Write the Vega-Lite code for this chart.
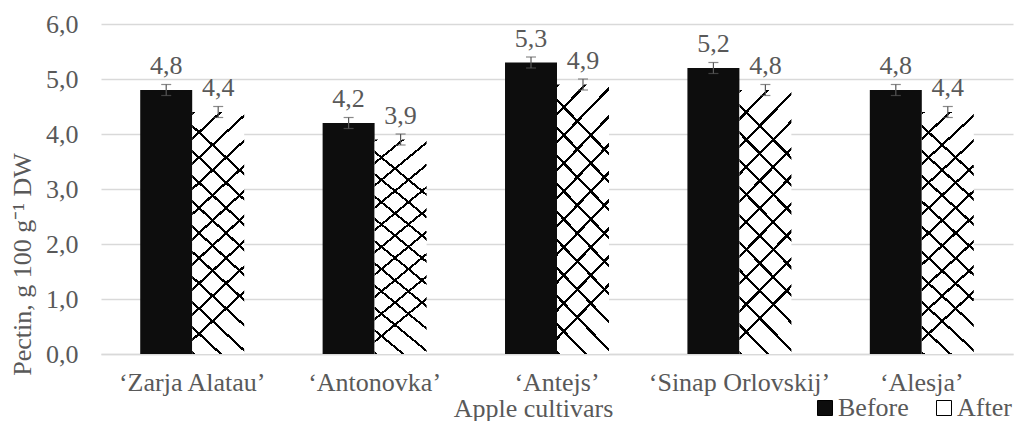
{
  "$schema": "https://vega.github.io/schema/vega-lite/v6.json",
  "width": 912,
  "height": 330,
  "autosize": {"type": "none"},
  "padding": {"left": 101, "top": 24, "right": 3, "bottom": 67},
  "background": "white",
  "config": {
    "font": "Liberation Serif, Times New Roman, serif",
    "view": {"stroke": null},
    "locale": {"number": {"decimal": ",", "thousands": ".", "grouping": [3], "currency": ["", ""]}},
    "axisY": {
      "domain": false, "ticks": false, "tickSize": 0, "labelOverlap": false,
      "gridColor": "#d9d9d9", "gridWidth": 1.3,
      "labelFont": "Liberation Serif, Times New Roman, serif", "labelFontSize": 26, "labelColor": "#595959", "labelPadding": 23,
      "titleFont": "Liberation Serif, Times New Roman, serif", "titleFontSize": 26, "titleColor": "#595959", "titleFontWeight": "normal",
      "titleX": -79, "titleY": 240, "titleBaseline": "middle", "titleAlign": "center", "titleAngle": -90
    }
  },
  "data": {
    "values": [
      {"cultivar": "‘Zarja Alatau’", "group": "Before", "value": 4.8, "lo": 4.7, "hi": 4.9},
      {"cultivar": "‘Zarja Alatau’", "group": "After", "value": 4.4, "lo": 4.3, "hi": 4.5},
      {"cultivar": "‘Antonovka’", "group": "Before", "value": 4.2, "lo": 4.1, "hi": 4.3},
      {"cultivar": "‘Antonovka’", "group": "After", "value": 3.9, "lo": 3.8, "hi": 4.0},
      {"cultivar": "‘Antejs’", "group": "Before", "value": 5.3, "lo": 5.2, "hi": 5.4},
      {"cultivar": "‘Antejs’", "group": "After", "value": 4.9, "lo": 4.8, "hi": 5.0},
      {"cultivar": "‘Sinap Orlovskij’", "group": "Before", "value": 5.2, "lo": 5.1, "hi": 5.3},
      {"cultivar": "‘Sinap Orlovskij’", "group": "After", "value": 4.8, "lo": 4.7, "hi": 4.9},
      {"cultivar": "‘Alesja’", "group": "Before", "value": 4.8, "lo": 4.7, "hi": 4.9},
      {"cultivar": "‘Alesja’", "group": "After", "value": 4.4, "lo": 4.3, "hi": 4.5}
    ]
  },
  "encoding": {
    "x": {
      "field": "cultivar", "type": "nominal", "sort": null,
      "scale": {"paddingInner": 0.43, "paddingOuter": 0.215},
      "axis": {
        "title": "Apple cultivars", "labelAngle": 0, "ticks": false, "tickSize": 0,
        "domainColor": "#d9d9d9", "domainWidth": 1.3, "labelOverlap": false,
        "labelFont": "Liberation Serif, Times New Roman, serif", "labelFontSize": 26, "labelColor": "#595959",
        "labelBaseline": "alphabetic", "labelPadding": 36, "labelLimit": 0,
        "titleFont": "Liberation Serif, Times New Roman, serif", "titleFontSize": 26, "titleColor": "#595959", "titleFontWeight": "normal",
        "titleX": 432, "titleY": 62, "titleBaseline": "alphabetic", "titleAlign": "center", "titleAnchor": null
      }
    },
    "xOffset": {"field": "group", "type": "nominal", "scale": {"domain": ["Before", "After"], "paddingInner": 0, "paddingOuter": 0}}
  },
  "layer": [
    {
      "mark": {"type": "bar"},
      "encoding": {
        "y": {
          "field": "value", "type": "quantitative",
          "scale": {"domain": [0, 6], "nice": false, "zero": true},
          "axis": {"title": "Pectin, g 100 g⁻¹ DW", "values": [0, 1, 2, 3, 4, 5, 6], "format": ".1f"}
        },
        "color": {
          "field": "group", "type": "nominal",
          "scale": {"domain": ["Before", "After"], "range": ["#0d0d0d", "#ffffff"]},
          "legend": {
            "title": null, "orient": "none", "direction": "horizontal",
            "legendX": 711, "legendY": 371,
            "symbolType": "square", "symbolSize": 225, "symbolStrokeColor": "#000000", "symbolStrokeWidth": 1,
            "labelFont": "Liberation Serif, Times New Roman, serif", "labelFontSize": 26, "labelColor": "#595959",
            "columnPadding": 22, "labelOffset": 0
          }
        }
      }
    },
    {
      "transform": [{"filter": "datum.group === 'After'"}],
      "mark": {
        "type": "bar",
        "color": {
          "gradient": "linear", "x1": 0, "y1": 0, "x2": 0.2, "y2": 1,
          "stops": [
            {"offset": 0, "color": "#000000"}, {"offset": 0.012, "color": "#000000"}, {"offset": 0.012, "color": "rgba(0,0,0,0)"},
            {"offset": 0.1, "color": "rgba(0,0,0,0)"}, {"offset": 0.1, "color": "#000000"}, {"offset": 0.112, "color": "#000000"}, {"offset": 0.112, "color": "rgba(0,0,0,0)"},
            {"offset": 0.2, "color": "rgba(0,0,0,0)"}, {"offset": 0.2, "color": "#000000"}, {"offset": 0.212, "color": "#000000"}, {"offset": 0.212, "color": "rgba(0,0,0,0)"},
            {"offset": 0.3, "color": "rgba(0,0,0,0)"}, {"offset": 0.3, "color": "#000000"}, {"offset": 0.312, "color": "#000000"}, {"offset": 0.312, "color": "rgba(0,0,0,0)"},
            {"offset": 0.4, "color": "rgba(0,0,0,0)"}, {"offset": 0.4, "color": "#000000"}, {"offset": 0.412, "color": "#000000"}, {"offset": 0.412, "color": "rgba(0,0,0,0)"},
            {"offset": 0.5, "color": "rgba(0,0,0,0)"}, {"offset": 0.5, "color": "#000000"}, {"offset": 0.512, "color": "#000000"}, {"offset": 0.512, "color": "rgba(0,0,0,0)"},
            {"offset": 0.6, "color": "rgba(0,0,0,0)"}, {"offset": 0.6, "color": "#000000"}, {"offset": 0.612, "color": "#000000"}, {"offset": 0.612, "color": "rgba(0,0,0,0)"},
            {"offset": 0.7, "color": "rgba(0,0,0,0)"}, {"offset": 0.7, "color": "#000000"}, {"offset": 0.712, "color": "#000000"}, {"offset": 0.712, "color": "rgba(0,0,0,0)"},
            {"offset": 0.8, "color": "rgba(0,0,0,0)"}, {"offset": 0.8, "color": "#000000"}, {"offset": 0.812, "color": "#000000"}, {"offset": 0.812, "color": "rgba(0,0,0,0)"},
            {"offset": 0.9, "color": "rgba(0,0,0,0)"}, {"offset": 0.9, "color": "#000000"}, {"offset": 0.912, "color": "#000000"}, {"offset": 0.912, "color": "rgba(0,0,0,0)"},
            {"offset": 1, "color": "rgba(0,0,0,0)"}
          ]
        }
      },
      "encoding": {"y": {"field": "value", "type": "quantitative", "axis": {"title": "Pectin, g 100 g⁻¹ DW", "values": [0, 1, 2, 3, 4, 5, 6], "format": ".1f"}}}
    },
    {
      "transform": [{"filter": "datum.group === 'After'"}],
      "mark": {
        "type": "bar",
        "color": {
          "gradient": "linear", "x1": 0, "y1": 1, "x2": 0.2, "y2": 0,
          "stops": [
            {"offset": 0, "color": "#000000"}, {"offset": 0.012, "color": "#000000"}, {"offset": 0.012, "color": "rgba(0,0,0,0)"},
            {"offset": 0.1, "color": "rgba(0,0,0,0)"}, {"offset": 0.1, "color": "#000000"}, {"offset": 0.112, "color": "#000000"}, {"offset": 0.112, "color": "rgba(0,0,0,0)"},
            {"offset": 0.2, "color": "rgba(0,0,0,0)"}, {"offset": 0.2, "color": "#000000"}, {"offset": 0.212, "color": "#000000"}, {"offset": 0.212, "color": "rgba(0,0,0,0)"},
            {"offset": 0.3, "color": "rgba(0,0,0,0)"}, {"offset": 0.3, "color": "#000000"}, {"offset": 0.312, "color": "#000000"}, {"offset": 0.312, "color": "rgba(0,0,0,0)"},
            {"offset": 0.4, "color": "rgba(0,0,0,0)"}, {"offset": 0.4, "color": "#000000"}, {"offset": 0.412, "color": "#000000"}, {"offset": 0.412, "color": "rgba(0,0,0,0)"},
            {"offset": 0.5, "color": "rgba(0,0,0,0)"}, {"offset": 0.5, "color": "#000000"}, {"offset": 0.512, "color": "#000000"}, {"offset": 0.512, "color": "rgba(0,0,0,0)"},
            {"offset": 0.6, "color": "rgba(0,0,0,0)"}, {"offset": 0.6, "color": "#000000"}, {"offset": 0.612, "color": "#000000"}, {"offset": 0.612, "color": "rgba(0,0,0,0)"},
            {"offset": 0.7, "color": "rgba(0,0,0,0)"}, {"offset": 0.7, "color": "#000000"}, {"offset": 0.712, "color": "#000000"}, {"offset": 0.712, "color": "rgba(0,0,0,0)"},
            {"offset": 0.8, "color": "rgba(0,0,0,0)"}, {"offset": 0.8, "color": "#000000"}, {"offset": 0.812, "color": "#000000"}, {"offset": 0.812, "color": "rgba(0,0,0,0)"},
            {"offset": 0.9, "color": "rgba(0,0,0,0)"}, {"offset": 0.9, "color": "#000000"}, {"offset": 0.912, "color": "#000000"}, {"offset": 0.912, "color": "rgba(0,0,0,0)"},
            {"offset": 1, "color": "rgba(0,0,0,0)"}
          ]
        }
      },
      "encoding": {"y": {"field": "value", "type": "quantitative", "axis": {"title": "Pectin, g 100 g⁻¹ DW", "values": [0, 1, 2, 3, 4, 5, 6], "format": ".1f"}}}
    },
    {
      "mark": {"type": "rule", "color": "#595959", "strokeWidth": 1.2},
      "encoding": {
        "y": {"field": "lo", "type": "quantitative", "axis": {"title": "Pectin, g 100 g⁻¹ DW", "values": [0, 1, 2, 3, 4, 5, 6], "format": ".1f"}},
        "y2": {"field": "hi"}
      }
    },
    {
      "mark": {"type": "tick", "color": "#595959", "size": 10, "thickness": 1.2, "orient": "horizontal"},
      "encoding": {"y": {"field": "lo", "type": "quantitative", "axis": {"title": "Pectin, g 100 g⁻¹ DW", "values": [0, 1, 2, 3, 4, 5, 6], "format": ".1f"}}}
    },
    {
      "mark": {"type": "tick", "color": "#595959", "size": 10, "thickness": 1.2, "orient": "horizontal"},
      "encoding": {"y": {"field": "hi", "type": "quantitative", "axis": {"title": "Pectin, g 100 g⁻¹ DW", "values": [0, 1, 2, 3, 4, 5, 6], "format": ".1f"}}}
    },
    {
      "mark": {"type": "text", "font": "Liberation Serif, Times New Roman, serif", "fontSize": 26, "color": "#595959", "baseline": "alphabetic", "dy": -16},
      "encoding": {
        "y": {"field": "value", "type": "quantitative", "axis": {"title": "Pectin, g 100 g⁻¹ DW", "values": [0, 1, 2, 3, 4, 5, 6], "format": ".1f"}},
        "text": {"field": "value", "type": "quantitative", "format": ".1f"}
      }
    }
  ]
}
